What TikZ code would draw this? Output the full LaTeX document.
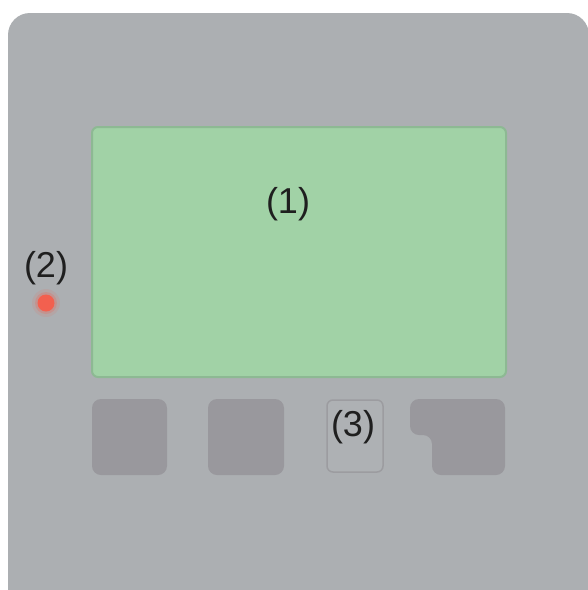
\documentclass[tikz,border=0pt]{standalone}
\usepackage{fontspec}
\setmainfont{Liberation Sans}
\definecolor{panel}{HTML}{ACAFB2}
\definecolor{screen}{HTML}{A1D2A6}
\definecolor{screenedge}{HTML}{8DB993}
\definecolor{btn}{HTML}{99989D}
\definecolor{btnedge}{HTML}{9C9CA0}
\definecolor{led}{HTML}{F2604F}
\begin{document}
\begin{tikzpicture}[x=1pt,y=-1pt,
  label/.style={inner sep=0pt,font=\fontsize{36}{40}\selectfont,text=black!88},
  keybox/.style={fill=btn,rounded corners=9pt},
]
\useasboundingbox (0,0) rectangle (588,590);
\fill[white] (0,0) rectangle (588,590);
% housing
\begin{scope}
\clip (0,0) rectangle (588,590);
\fill[panel,rounded corners=22pt] (8,640) -- (8,13) -- (589,13) -- (589,640) -- cycle;
\end{scope}
% display
\draw[screenedge,line width=2pt,fill=screen,rounded corners=6pt] (92,127) rectangle (506,377);
\node[label] (l1) at (288,204) {(1)};
% LED
\fill[led,opacity=0.12] (46,303) circle[radius=14];
\fill[led,opacity=0.25] (46,303) circle[radius=11];
\fill[led] (46,303) circle[radius=8.5];
\node[label] (l2) at (46,268) {(2)};
% keys
\fill[keybox] (92,399) rectangle (167,475);
\fill[keybox] (208,399) rectangle (284,475);
\draw[btnedge,line width=1.5pt,fill=panel!97!white,rounded corners=6pt] (327,400) rectangle (383,472);
\fill[keybox] (410,399) -- (505,399) -- (505,475) -- (432,475) -- (432,435) -- (410,435) -- cycle;
\node[label] (l3) at (353,427) {(3)};
\end{tikzpicture}
\end{document}
